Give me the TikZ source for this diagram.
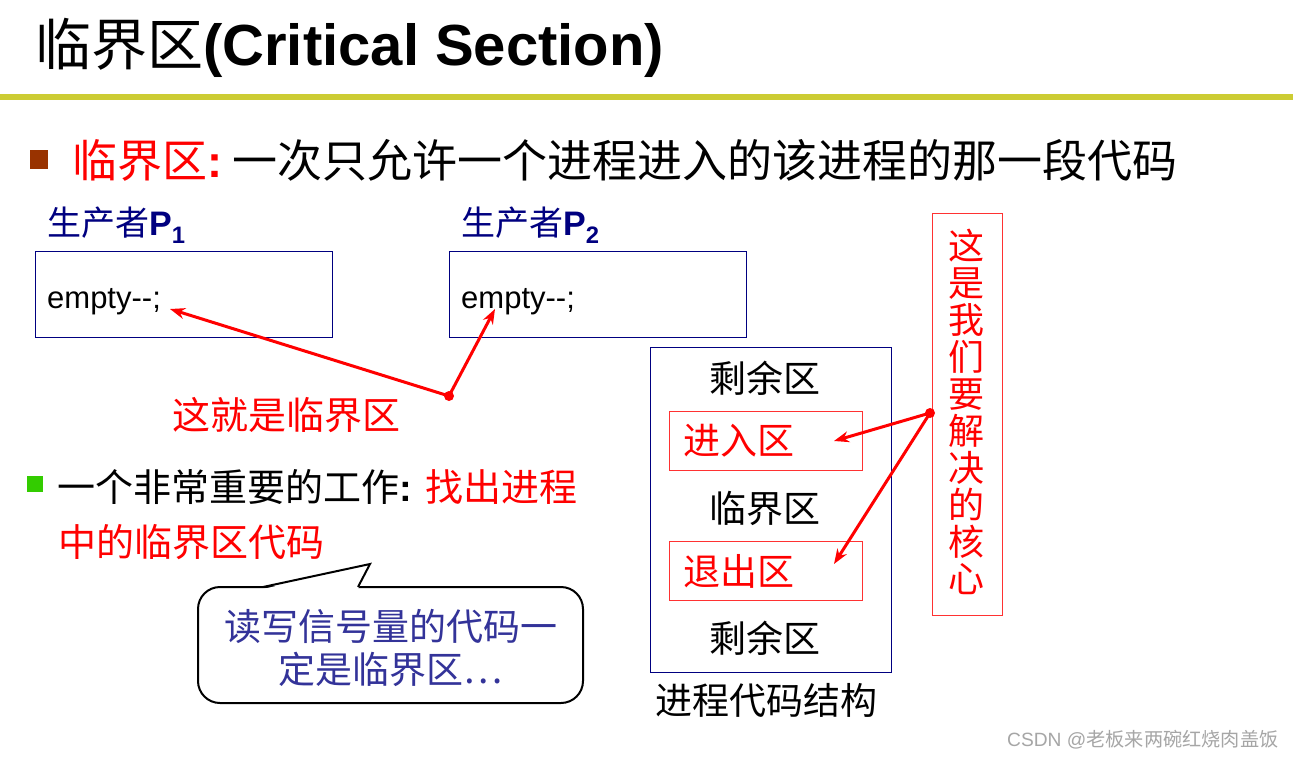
\documentclass[tikz,border=0pt]{standalone}
\usepackage{fontspec}
\setmainfont{Liberation Sans}
\newfontfamily\cjk{Noto Sans CJK SC}
\usetikzlibrary{arrows.meta}
\definecolor{navy}{RGB}{0,0,128}
\definecolor{calloutblue}{RGB}{51,51,153}
\definecolor{olive}{RGB}{204,204,51}
\definecolor{brownbul}{RGB}{153,51,0}
\definecolor{greenbul}{RGB}{51,204,0}
\definecolor{lightred}{RGB}{255,50,50}
\newcommand{\fs}[1]{\fontsize{#1}{#1}\selectfont}
\begin{document}
\begin{tikzpicture}[x=1pt,y=-1pt,
  txt/.style={inner sep=0pt,anchor=west},
  ctxt/.style={inner sep=0pt,anchor=center},
  codebox/.style={draw=navy,line width=1pt},
  redbox/.style={draw=lightred,line width=1pt},
  redarrow/.style={draw=red,line width=3pt,-{Stealth[length=15pt,width=11pt]}},
  reddot/.style={circle,fill=red,inner sep=0pt,minimum size=10pt}]
\useasboundingbox (0,0) rectangle (1293,758);
\fill[white] (0,0) rectangle (1293,758);
% title
\node[txt] (title) at (35,48) {\fs{56}{\cjk 临界区}{\fontsize{58}{58}\selectfont\bfseries(Critical Section)}};
\fill[olive] (0,94) rectangle (1293,100);
% bullet 1
\fill[brownbul] (30,150) rectangle (48,169);
\node[txt,text=red] (def) at (72,160) {\fs{45}{\cjk 临界区}\textbf{:}};
\node[txt] (defb) at (232,160) {\fs{45}\cjk 一次只允许一个进程进入的该进程的那一段代码};
% producers
\node[txt,text=navy] (p1) at (47,225) {\fs{34}{\cjk 生产者}\textbf{P\textsubscript{1}}};
\node[txt,text=navy] (p2) at (461,225) {\fs{34}{\cjk 生产者}\textbf{P\textsubscript{2}}};
\draw[codebox] (35,251) rectangle (332,337);
\draw[codebox] (449,251) rectangle (746,337);
\node[txt] (e1) at (47,302) {\fs{31}empty-{}-;};
\node[txt] (e2) at (461,302) {\fs{31}empty-{}-;};
\coordinate (t1) at (170,309);
\coordinate (t2) at (495,309);
\node[reddot] (d1) at (449,396) {};
\draw[redarrow] (d1.center) -- (t1);
\draw[redarrow] (d1.center) -- (t2);
\node[txt,text=red] (crit) at (172,415) {\fs{38}\cjk 这就是临界区};
% bullet 2
\fill[greenbul] (27,476) rectangle (43,492);
\node[txt] (b2) at (57,487) {\fs{38}{\cjk 一个非常重要的工作}\textbf{:} \textcolor{red}{\cjk 找出进程}};
\node[txt,text=red] (b2b) at (58,542) {\fs{38}\cjk 中的临界区代码};
% callout
\draw[line width=2pt,rounded corners=22pt,fill=white] (198,587) rectangle (583,703);
\fill[white] (263,589) -- (370,564) -- (358,589) -- cycle;
\draw[line width=2pt,line join=miter] (263,587) -- (370,564) -- (358,587);
\node[ctxt,text=calloutblue,align=center,font=\cjk\fs{37}] (call) at (391,648) {读写信号量的代码一\\[6pt]定是临界区…};
% structure
\draw[codebox] (650,347) rectangle (891,672);
\node[ctxt] (r1) at (765,378) {\fs{37}\cjk 剩余区};
\draw[redbox] (669,411) rectangle (862,470);
\node[txt,text=red] (enter) at (683,441) {\fs{37}\cjk 进入区};
\node[ctxt] (cs) at (765,508) {\fs{37}\cjk 临界区};
\draw[redbox] (669,541) rectangle (862,600);
\node[txt,text=red] (exit) at (683,571) {\fs{37}\cjk 退出区};
\node[ctxt] (r2) at (765,638) {\fs{37}\cjk 剩余区};
\node[ctxt] (struct) at (766,700) {\fs{37}\cjk 进程代码结构};
% core
\draw[redbox] (932,213) rectangle (1002,615);
\node[ctxt,text=red,align=center,font=\cjk\fontsize{36}{37}\selectfont] (core) at (966,412) {这\\是\\我\\们\\要\\解\\决\\的\\核\\心};
\node[reddot] (d2) at (930,413) {};
\coordinate (t3) at (834,441);
\coordinate (t4) at (834,564);
\draw[redarrow] (d2.center) -- (t3);
\draw[redarrow] (d2.center) -- (t4);
% watermark
\node[txt,text=gray!70] (wm) at (1007,740) {\fs{19.2}CSDN @{\cjk 老板来两碗红烧肉盖饭}};
\end{tikzpicture}
\end{document}
